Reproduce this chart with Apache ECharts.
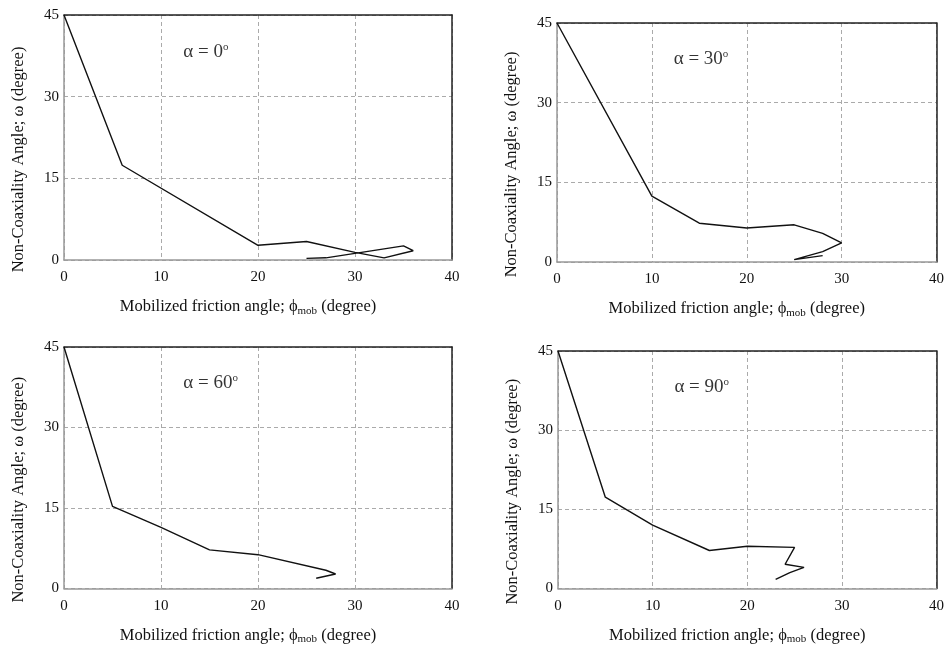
<!DOCTYPE html>
<html><head><meta charset="utf-8">
<script src="https://cdn.jsdelivr.net/npm/echarts@6/dist/echarts.min.js"></script>
<style>html,body{margin:0;background:#fff}#c{width:947px;height:646px}</style>
</head><body><div id="c"></div>
<script>
// Panel labels (alpha values)
const alphaLabels = ['0', '30', '60', '90'];
// Axis ranges / ticks
const xMin = 0, xMax = 40, xStep = 10;
const yMin = 0, yMax = 45, yStep = 15;
// Series data: mobilized friction angle (x) vs non-coaxiality angle (y)
const phiA0 = [0, 6, 20, 25, 30, 33, 36, 35, 27, 25];
const omegaA0 = [45, 17.4, 2.7, 3.4, 1.4, 0.4, 1.7, 2.6, 0.4, 0.3];
const phiA30 = [0, 10, 15, 20, 25, 28, 30, 28, 25, 28];
const omegaA30 = [45, 12.4, 7.3, 6.4, 7.0, 5.4, 3.6, 1.95, 0.45, 1.2];
const phiA60 = [0, 5, 10, 15, 20, 27, 28, 26];
const omegaA60 = [45, 15.3, 11.4, 7.2, 6.3, 3.4, 2.7, 1.9];
const phiA90 = [0, 5, 10, 16, 20, 25, 24, 26, 24.5, 23];
const omegaA90 = [45, 17.3, 12.0, 7.2, 8.0, 7.8, 4.6, 4.0, 3.0, 1.75];
// Annotation position (data coords)
const annX = [12.3], annY = [38.2];

const phiSets = [phiA0, phiA30, phiA60, phiA90];
const omegaSets = [omegaA0, omegaA30, omegaA60, omegaA90];

const FONT = '"Liberation Serif", "DejaVu Serif", serif';
const grids = [
  {left: 64, top: 15, width: 388, height: 245},
  {left: 557, top: 23, width: 382, height: 239},
  {left: 64, top: 347, width: 388, height: 243},
  {left: 558, top: 351, width: 383, height: 241}
];

const xAxes = [], yAxes = [], series = [];
grids.forEach((g, i) => {
  xAxes.push({
    gridIndex: i, type: 'value', min: xMin, max: xMax, interval: xStep,
    name: '{t|Mobilized friction angle; ϕ}{s|mob}{t| (degree)}',
    nameLocation: 'middle', nameGap: 37,
    nameTextStyle: {
      padding: [0, 20, 0, 0],
      rich: {
        t: {fontFamily: FONT, fontSize: 16.5, color: '#111', lineHeight: 20},
        s: {fontFamily: FONT, fontSize: 11, color: '#111', lineHeight: 20, padding: [8, 0, 0, 0]}
      }
    },
    axisLine: {show: true, lineStyle: {color: '#999', width: 1.5}},
    axisTick: {show: false},
    axisLabel: {fontFamily: FONT, fontSize: 15, color: '#111', margin: 10},
    splitLine: {show: true, lineStyle: {color: '#aaa', type: [4, 3], width: 1}}
  });
  xAxes.push({
    gridIndex: i, type: 'value', position: 'top', min: xMin, max: xMax,
    axisLine: {show: true, onZero: false, lineStyle: {color: '#222', width: 1.5}},
    axisTick: {show: false}, axisLabel: {show: false}, splitLine: {show: false}
  });
  yAxes.push({
    gridIndex: i, type: 'value', min: yMin, max: yMax, interval: yStep,
    name: 'Non-Coaxiality Angle; ω (degree)',
    nameLocation: 'middle', nameGap: 37, nameRotate: 90,
    nameTextStyle: {fontFamily: FONT, fontSize: 16.5, color: '#111', padding: [0, 44, 0, 0]},
    axisLine: {show: true, lineStyle: {color: '#999', width: 1.5}},
    axisTick: {show: false},
    axisLabel: {fontFamily: FONT, fontSize: 15, color: '#111', margin: 5},
    splitLine: {show: true, lineStyle: {color: '#aaa', type: [4, 3], width: 1}}
  });
  yAxes.push({
    gridIndex: i, type: 'value', position: 'right', min: yMin, max: yMax,
    axisLine: {show: true, onZero: false, lineStyle: {color: '#222', width: 1.5}},
    axisTick: {show: false}, axisLabel: {show: false}, splitLine: {show: false}
  });
  series.push({
    type: 'line', xAxisIndex: 2 * i, yAxisIndex: 2 * i,
    data: phiSets[i].map((x, k) => [x, omegaSets[i][k]]),
    showSymbol: false, symbol: 'none', silent: true,
    lineStyle: {color: '#111', width: 1.4}
  });
  series.push({
    type: 'scatter', xAxisIndex: 2 * i, yAxisIndex: 2 * i,
    data: annX.map((x, k) => [x, annY[k]]),
    symbolSize: 0, silent: true,
    label: {
      show: true, position: 'right', distance: 0, color: '#000',
      formatter: '{a|α = ' + alphaLabels[i] + '}{o|o}',
      rich: {
        a: {fontFamily: FONT, fontSize: 19, color: '#000', lineHeight: 22},
        o: {fontFamily: FONT, fontSize: 11, color: '#000', lineHeight: 22, padding: [0, 0, 10, 0]}
      }
    }
  });
});

const chart = echarts.init(document.getElementById('c'), null, {renderer: 'canvas'});
chart.setOption({
  animation: false,
  backgroundColor: '#fff',
  grid: grids.map(g => Object.assign({containLabel: false}, g)),
  xAxis: xAxes, yAxis: yAxes, series: series
});
</script></body></html>
